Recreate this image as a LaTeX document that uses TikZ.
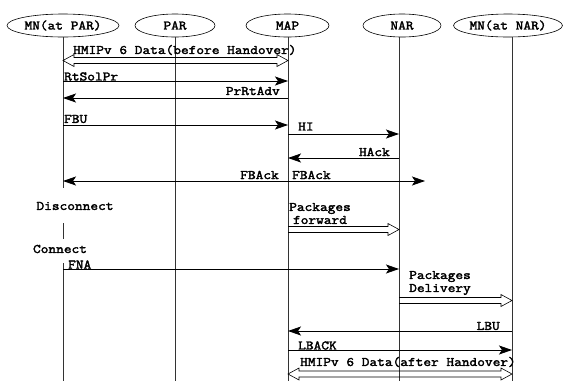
\documentclass[tikz,border=0pt]{standalone}
\usepackage{fontspec}
\newfontfamily\lblfont{Latin Modern Mono}[FakeStretch=1.15, FakeBold=2.4]
\usetikzlibrary{arrows.meta,shapes.geometric}

% open (hollow) double-line arrows between two named points on the same height
\newcommand\hollowright[2]{%
  \draw[hollow] ([yshift=3pt]#1) -- ([xshift=-11pt,yshift=3pt]#2) -- ([xshift=-11pt,yshift=6pt]#2)
    -- (#2) -- ([xshift=-11pt,yshift=-6pt]#2) -- ([xshift=-11pt,yshift=-3pt]#2) -- ([yshift=-3pt]#1);}
\newcommand\hollowboth[2]{%
  \draw[hollow] (#1) -- ([xshift=11pt,yshift=6pt]#1) -- ([xshift=11pt,yshift=3pt]#1)
    -- ([xshift=-11pt,yshift=3pt]#2) -- ([xshift=-11pt,yshift=6pt]#2) -- (#2)
    -- ([xshift=-11pt,yshift=-6pt]#2) -- ([xshift=-11pt,yshift=-3pt]#2)
    -- ([xshift=11pt,yshift=-3pt]#1) -- ([xshift=11pt,yshift=-6pt]#1) -- cycle;}

\begin{document}
\begin{tikzpicture}[x=1pt,y=-1pt,
  every node/.style={font=\lblfont\fontsize{13}{13}\selectfont, inner sep=0pt},
  actor/.style={ellipse, draw, line width=0.6pt, minimum height=23pt},
  life/.style={line width=0.6pt, draw=black!80},
  >={Stealth[length=13pt,width=9pt,inset=3pt]},
  msg/.style={line width=0.7pt, ->},
  msgback/.style={line width=0.7pt, <->},
  hollow/.style={line width=0.6pt}]
\useasboundingbox (0,0) rectangle (563,381);

% participants
\node[actor, minimum width=112pt] (mnp) at (63,25.5) {MN(at PAR)};
\node[actor, minimum width=80pt]  (par) at (175,25.5) {PAR};
\node[actor, minimum width=83pt]  (map) at (287.5,25.5) {MAP};
\node[actor, minimum width=78pt]  (nar) at (402,25.5) {NAR};
\node[actor, minimum width=107pt] (mnn) at (508,25.5) {MN(at NAR)};

% lifelines
\coordinate (LMN)  at (63,37);
\coordinate (LPAR) at (175,37);
\coordinate (LMAP) at (288,37);
\coordinate (LNAR) at (399,37);
\coordinate (LMNN) at (512,37);
\draw[life] (LMN) -- (LMN |- 0,188);
\draw[life] (LMN |- 0,223) -- (LMN |- 0,239);
\draw[life] (LMN |- 0,263) -- (LMN |- 0,381);
\draw[life] (LPAR) -- (LPAR |- 0,381);
\draw[life] (LMAP) -- (LMAP |- 0,381);
\draw[life] (LNAR) -- (LNAR |- 0,381);
\draw[life] (LMNN) -- (LMNN |- 0,381);

% HMIPv6 data before handover
\coordinate (d1a) at (LMN |- 0,60.5);
\coordinate (d1b) at (LMAP |- 0,60.5);
\hollowboth{d1a}{d1b}
\node[anchor=west] (t1) at (73,50) {HMIPv 6 Data(before Handover)};

% RtSolPr / PrRtAdv
\draw[msg] (LMN |- 0,81) -- (LMAP |- 0,81);
\node[anchor=west] (t2) at (64,76.5) {RtSolPr};
\draw[msg] (LMAP |- 0,98) -- (LMN |- 0,98);
\node[anchor=east] (t3) at (280,91) {PrRtAdv};

% FBU, HI, HAck
\draw[msg] (LMN |- 0,125) -- (LMAP |- 0,125);
\node[anchor=west] (t4) at (64,119) {FBU};
\draw[msg] (LMAP |- 0,134) -- (LNAR |- 0,134);
\node[anchor=west] (t5) at (298,126.5) {HI};
\draw[msg] (LNAR |- 0,158) -- (LMAP |- 0,158);
\node[anchor=east] (t6) at (390,152) {HAck};

% FBAck to both sides
\coordinate (fbend) at (425,181);
\draw[msgback] (LMN |- 0,181) -- (fbend);
\node[anchor=east] (t7) at (279,175) {FBAck};
\node[anchor=west] (t8) at (292,175) {FBAck};

% disconnect / connect of the mobile node
\node (disc) at (75,206) {Disconnect};
\node (conn) at (60,249) {Connect};

% packets forwarded to NAR
\coordinate (pf1) at (LMAP |- 0,229.5);
\coordinate (pf2) at (LNAR |- 0,229.5);
\hollowright{pf1}{pf2}
\node[align=center] (t9) at (320,213.5) {Packages\\forward};

% FNA
\draw[msg] (LMN |- 0,269) -- (LNAR |- 0,269);
\node[anchor=west] (t10) at (68,264.5) {FNA};

% packets delivered to MN
\coordinate (pd1) at (LNAR |- 0,300.5);
\coordinate (pd2) at (LMNN |- 0,300.5);
\hollowright{pd1}{pd2}
\node[align=center] (t11) at (440,283) {Packages\\Delivery};

% LBU / LBACK
\draw[msg] (LMNN |- 0,331) -- (LMAP |- 0,331);
\node[anchor=east] (t12) at (500,326) {LBU};
\draw[msg] (LMAP |- 0,350) -- (LMNN |- 0,350);
\node[anchor=west] (t13) at (298,345.5) {LBACK};

% HMIPv6 data after handover
\coordinate (d2a) at (LMAP |- 0,374);
\coordinate (d2b) at (LMNN |- 0,374);
\hollowboth{d2a}{d2b}
\node[anchor=west] (t14) at (300,362) {HMIPv 6 Data(after Handover)};
\end{tikzpicture}
\end{document}
